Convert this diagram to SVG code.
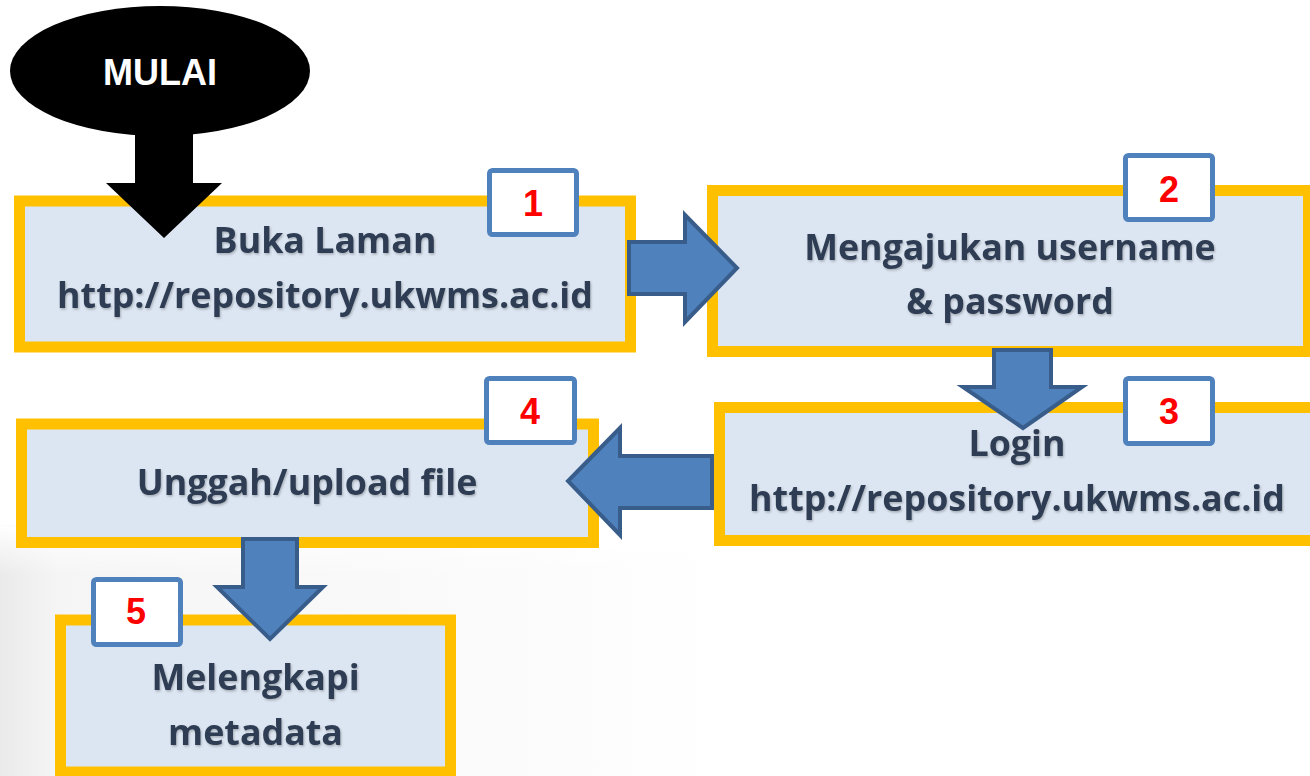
<svg xmlns="http://www.w3.org/2000/svg" width="1310" height="776" viewBox="0 0 1310 776">
  <defs>
    <linearGradient id="bg" x1="0" y1="0" x2="1" y2="0">
      <stop offset="0" stop-color="#eaeaea"/>
      <stop offset="0.08" stop-color="#f5f5f5"/>
      <stop offset="0.7" stop-color="#fbfbfb"/>
      <stop offset="1" stop-color="#ffffff"/>
    </linearGradient>
    <linearGradient id="bgv" x1="0" y1="0" x2="0" y2="1">
      <stop offset="0" stop-color="#ffffff" stop-opacity="1"/>
      <stop offset="0.2" stop-color="#ffffff" stop-opacity="0"/>
    </linearGradient>
    <filter id="shadow" x="-5%" y="-20%" width="110%" height="150%">
      <feDropShadow dx="1" dy="1.5" stdDeviation="0.8" flood-color="#000000" flood-opacity="0.25"/>
    </filter>
    <style>
      .box { fill: #dce6f2; stroke: #ffc000; stroke-width: 11; }
      .badge { fill: #ffffff; stroke: #4f81bd; stroke-width: 5; }
      .num { font-family: "Liberation Sans", Arial, sans-serif; font-weight: bold; font-size: 36px; fill: #ff0000; text-anchor: middle; }
      .lbl { font-family: "Open Sans", "Liberation Sans", sans-serif; font-weight: bold; font-size: 35.8px; fill: #2f3d52; text-anchor: middle; filter: url(#shadow); }
      .blue { fill: #4f81bd; stroke: #385d8a; stroke-width: 4; stroke-linejoin: miter; }
    </style>
  </defs>

  <rect x="0" y="0" width="1310" height="776" fill="#ffffff"/>
  <path d="M0,525 L720,555 L720,776 L0,776 Z" fill="url(#bg)"/>
  <path d="M0,525 L720,555 L720,776 L0,776 Z" fill="url(#bgv)"/>

  <g id="start">
    <ellipse cx="160" cy="71" rx="150" ry="65" fill="#000000"/>
    <text x="160" y="85" font-family="Liberation Sans, Arial, sans-serif" font-weight="bold" font-size="36" fill="#ffffff" text-anchor="middle">MULAI</text>
  </g>

  <g id="step1">
    <rect class="box" x="19.5" y="201" width="611" height="146"/>
    <text class="lbl" x="325" y="253">Buka Laman</text>
    <text class="lbl" x="325" y="308">http://repository.ukwms.ac.id</text>
    <rect class="badge" x="489.5" y="170.5" width="87" height="64" rx="3"/>
    <text class="num" x="533" y="216">1</text>
  </g>

  <g id="step2">
    <rect class="box" x="712.5" y="190.5" width="596" height="161"/>
    <text class="lbl" x="1010" y="260">Mengajukan username</text>
    <text class="lbl" x="1010" y="314">&amp; password</text>
    <rect class="badge" x="1125.5" y="155.5" width="87" height="64" rx="3"/>
    <text class="num" x="1169" y="202">2</text>
  </g>

  <g id="step3">
    <rect class="box" x="719.5" y="407.5" width="620" height="133"/>
    <text class="lbl" x="1017" y="456">Login</text>
    <text class="lbl" x="1017" y="511">http://repository.ukwms.ac.id</text>
    <rect class="badge" x="1125.5" y="378.5" width="87" height="65" rx="3"/>
    <text class="num" x="1169" y="424">3</text>
  </g>

  <g id="step4">
    <rect class="box" x="21.5" y="424" width="572" height="118.5"/>
    <text class="lbl" x="307" y="495">Unggah/upload file</text>
    <rect class="badge" x="486.5" y="378.5" width="88" height="64" rx="3"/>
    <text class="num" x="530" y="424">4</text>
  </g>

  <g id="step5">
    <rect class="box" x="60.5" y="620" width="390" height="152"/>
    <text class="lbl" x="255.5" y="690">Melengkapi</text>
    <text class="lbl" x="255.5" y="745">metadata</text>
    <rect class="badge" x="93.5" y="579.5" width="87" height="65" rx="3"/>
    <text class="num" x="136" y="624">5</text>
  </g>

  <g id="connectors">
    <polygon points="135,125 193,125 193,183 222,183 164,238 106,183 135,183" fill="#000000"/>
    <polygon class="blue" points="629,242 685,242 685,215 737,268 685,322 685,294 629,294"/>
    <polygon class="blue" points="994,350 1051,350 1051,387 1082,387 1023,428 963,387 994,387"/>
    <polygon class="blue" points="712,456 620,456 620,428 568,481 620,535 620,508 712,508"/>
    <polygon class="blue" points="243,539 297,539 297,587 323,587 270,639 217,587 243,587"/>
  </g>
</svg>
